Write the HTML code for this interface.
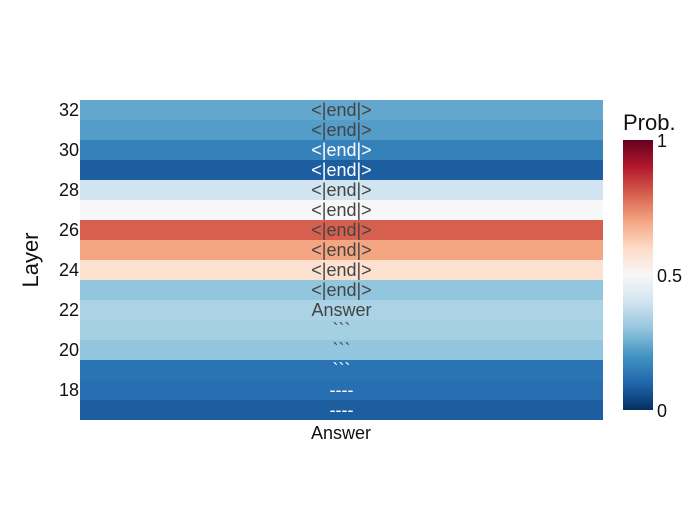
<!DOCTYPE html>
<html><head><meta charset="utf-8"><style>
body{margin:0;background:#fff}
svg{font-family:"Liberation Sans",sans-serif}
</style></head><body>
<svg id="c" width="700" height="500">
<defs><linearGradient id="g" x1="0" y1="1" x2="0" y2="0">
<stop offset="0" stop-color="#053061"/><stop offset="0.1" stop-color="#2166ac"/><stop offset="0.2" stop-color="#4393c3"/><stop offset="0.3" stop-color="#92c5de"/><stop offset="0.4" stop-color="#d1e5f0"/><stop offset="0.5" stop-color="#f7f7f7"/><stop offset="0.6" stop-color="#fddbc7"/><stop offset="0.7" stop-color="#f4a582"/><stop offset="0.8" stop-color="#d6604d"/><stop offset="0.9" stop-color="#b2182b"/><stop offset="1" stop-color="#67001f"/>
</linearGradient></defs>
<g id="cells">
<rect x="80" y="100" width="523" height="20" fill="rgb(99,167,206)"/>
<rect x="80" y="120" width="523" height="20" fill="rgb(83,157,200)"/>
<rect x="80" y="140" width="523" height="20" fill="rgb(53,129,186)"/>
<rect x="80" y="160" width="523" height="20" fill="rgb(31,95,166)"/>
<rect x="80" y="180" width="523" height="20" fill="rgb(209,229,240)"/>
<rect x="80" y="200" width="523" height="20" fill="rgb(247,247,247)"/>
<rect x="80" y="220" width="523" height="20" fill="rgb(214,96,77)"/>
<rect x="80" y="240" width="523" height="20" fill="rgb(244,165,130)"/>
<rect x="80" y="260" width="523" height="20" fill="rgb(252,225,209)"/>
<rect x="80" y="280" width="523" height="20" fill="rgb(146,197,222)"/>
<rect x="80" y="300" width="523" height="20" fill="rgb(171,210,229)"/>
<rect x="80" y="320" width="523" height="20" fill="rgb(165,207,227)"/>
<rect x="80" y="340" width="523" height="20" fill="rgb(146,197,222)"/>
<rect x="80" y="360" width="523" height="20" fill="rgb(43,116,179)"/>
<rect x="80" y="380" width="523" height="20" fill="rgb(40,111,177)"/>
<rect x="80" y="400" width="523" height="20" fill="rgb(31,95,166)"/>
<g font-size="18" text-anchor="middle">
<text x="341.5" y="116" fill="#444">&lt;|end|&gt;</text>
<text x="341.5" y="136" fill="#444">&lt;|end|&gt;</text>
<text x="341.5" y="156" fill="#fff">&lt;|end|&gt;</text>
<text x="341.5" y="176" fill="#fff">&lt;|end|&gt;</text>
<text x="341.5" y="196" fill="#444">&lt;|end|&gt;</text>
<text x="341.5" y="216" fill="#444">&lt;|end|&gt;</text>
<text x="341.5" y="236" fill="#444">&lt;|end|&gt;</text>
<text x="341.5" y="256" fill="#444">&lt;|end|&gt;</text>
<text x="341.5" y="276" fill="#444">&lt;|end|&gt;</text>
<text x="341.5" y="296" fill="#444">&lt;|end|&gt;</text>
<text x="341.5" y="316" fill="#444">Answer</text>
<text x="341.5" y="336" fill="#444">&#96;&#96;&#96;</text>
<text x="341.5" y="356" fill="#444">&#96;&#96;&#96;</text>
<text x="341.5" y="376" fill="#fff">&#96;&#96;&#96;</text>
<text x="341.5" y="396" fill="#fff">----</text>
<text x="341.5" y="416" fill="#fff">----</text>
</g>
</g>
<g id="ylab" font-size="18" text-anchor="end" fill="#111">
<text x="78" y="116">32</text>
<text x="78" y="156">30</text>
<text x="78" y="196">28</text>
<text x="78" y="236">26</text>
<text x="78" y="276">24</text>
<text x="78" y="316">22</text>
<text x="78" y="356">20</text>
<text x="78" y="396">18</text>
</g>
<text x="311" y="439" font-size="18" fill="#111">Answer</text>
<text x="38" y="260" font-size="22" fill="#111" text-anchor="middle" transform="rotate(-90 38 260)">Layer</text>
<rect x="623" y="140" width="30" height="270" fill="url(#g)"/>
<text x="623" y="130" font-size="22" fill="#111">Prob.</text>
<text x="657" y="147" font-size="18" fill="#111">1</text>
<text x="657" y="282" font-size="18" fill="#111">0.5</text>
<text x="657" y="417" font-size="18" fill="#111">0</text>
</svg>
<script>
var BT="\u0060\u0060\u0060";
var layers=[17,18,19,20,21,22,23,24,25,26,27,28,29,30,31,32];
var probs=[0.085,0.12,0.13,0.3,0.33,0.34,0.3,0.58,0.7,0.8,0.5,0.4,0.085,0.16,0.22,0.24];
var tokens=["----","----",BT,BT,BT,"Answer","<|end|>","<|end|>","<|end|>","<|end|>","<|end|>","<|end|>","<|end|>","<|end|>","<|end|>","<|end|>"];
var yTicks=[18,20,22,24,26,28,30,32];
var scaleColors=["#053061","#2166ac","#4393c3","#92c5de","#d1e5f0","#f7f7f7","#fddbc7","#f4a582","#d6604d","#b2182b","#67001f"];
(function(){
var NS="http://www.w3.org/2000/svg";
var x0=80,x1=603,yTop=100,yBot=420;
var rowH=(yBot-yTop)/layers.length;
var maxL=Math.max.apply(null,layers);
function yPos(l){return yTop+(maxL-l)*rowH;}
function hex(h){return [1,3,5].map(function(i){return parseInt(h.substr(i,2),16);});}
function colorOf(v){v=Math.max(0,Math.min(1,v));var f=v*(scaleColors.length-1);var i=Math.min(Math.floor(f),scaleColors.length-2);var t=f-i;var a=hex(scaleColors[i]),b=hex(scaleColors[i+1]);return a.map(function(c,k){return Math.round(c+(b[k]-c)*t);});}
var cells=document.getElementById('cells');
while(cells.firstChild)cells.removeChild(cells.firstChild);
layers.forEach(function(l,i){
 var c=colorOf(probs[i]);
 var r=document.createElementNS(NS,'rect');
 r.setAttribute('x',x0);r.setAttribute('y',yPos(l));r.setAttribute('width',x1-x0);r.setAttribute('height',rowH);
 r.setAttribute('fill','rgb('+c.join(',')+')');
 
 
 cells.appendChild(r);
});
layers.forEach(function(l,i){
 var c=colorOf(probs[i]);
 var lum=0.299*c[0]+0.587*c[1]+0.114*c[2];
 var t=document.createElementNS(NS,'text');
 t.setAttribute('x',(x0+x1)/2);t.setAttribute('y',yPos(l)+rowH/2+6);
 t.setAttribute('text-anchor','middle');t.setAttribute('font-size','18');
 t.setAttribute('fill',lum<120?'#fff':'#444');
 t.textContent=tokens[i];
 
 
 cells.appendChild(t);
});
var yl=document.getElementById('ylab');
while(yl.firstChild)yl.removeChild(yl.firstChild);
yTicks.forEach(function(l){
 var t=document.createElementNS(NS,'text');
 t.setAttribute('x',79);t.setAttribute('y',yPos(l)+rowH/2+6);
 t.textContent=l;
 
 
 yl.appendChild(t);
});
})();
</script>
</body></html>
